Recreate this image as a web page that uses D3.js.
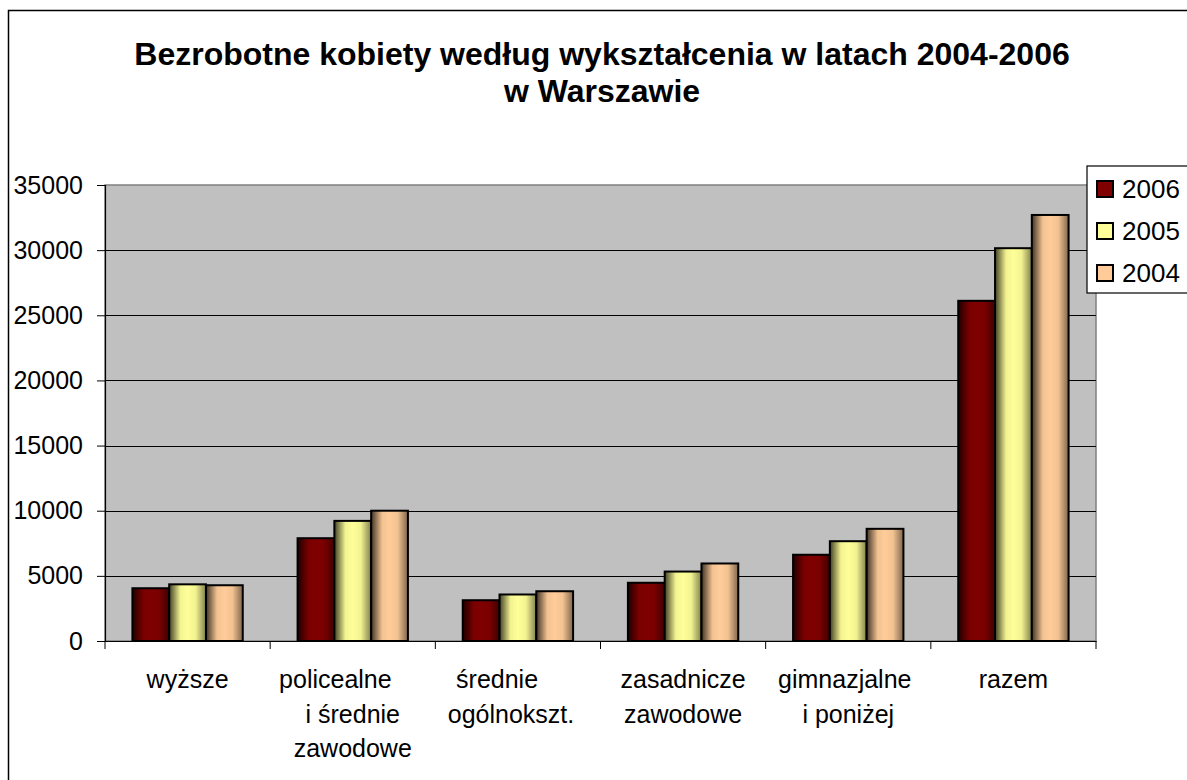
<!DOCTYPE html>
<html><head><meta charset="utf-8">
<script src="https://cdn.jsdelivr.net/npm/d3@7"></script>
<style>body{margin:0;background:#fff}svg{display:block;font-family:Arial,"Liberation Sans",sans-serif}</style>
</head><body><svg id="c" width="1187" height="780"></svg>
<script>
const titleLines = ["Bezrobotne kobiety według wykształcenia w latach 2004-2006", "w Warszawie"];
const categories = ["wyższe", "policealne i średnie zawodowe", "średnie ogólnokszt.", "zasadnicze zawodowe", "gimnazjalne i poniżej", "razem"];
const categoryLines = [["wyższe"], ["policealne\u00a0\u00a0\u00a0\u00a0\u00a0", "i średnie", "zawodowe"], ["średnie\u00a0\u00a0\u00a0\u00a0\u00a0\u00a0", "ogólnokszt.\u00a0\u00a0"], ["zasadnicze", "zawodowe"], ["gimnazjalne\u00a0", "i poniżej"], ["razem"]];
const seriesNames = ["2006", "2005", "2004"];
const values2006 = [4050, 7890, 3130, 4470, 6620, 26110];
const values2005 = [4350, 9220, 3570, 5330, 7660, 30150];
const values2004 = [4280, 10000, 3820, 5950, 8610, 32700];
const yTicks = [0, 5000, 10000, 15000, 20000, 25000, 30000, 35000];
const colors = ["#800000", "#FFFF99", "#FFCC99"];

const series = [values2006, values2005, values2004];
const svg = d3.select("#c");
const defs = svg.append("defs");

function shade(c, k){ const h = d3.rgb(c); return d3.rgb(h.r*k, h.g*k, h.b*k).formatHex(); }
colors.forEach((c,i)=>{
  const g = defs.append("linearGradient").attr("id","g"+i).attr("x1","0").attr("x2","1").attr("y1","0").attr("y2","0");
  [[0,0.25],[0.3,0.95],[0.5,1],[0.72,0.95],[1,0.5]].forEach(([o,k])=>g.append("stop").attr("offset",o).attr("stop-color",shade(c,k)));
});

// outer border
svg.append("rect").attr("x",8.5).attr("y",10.5).attr("width",1200).attr("height",800).attr("fill","#fff").attr("stroke","#000").attr("stroke-width",1.5);

const L = 105, R = 1096, T = 185, B = 641;
const x = d3.scaleBand().domain(categories).range([L,R]).paddingInner(0).paddingOuter(0);
const y = d3.scaleLinear().domain([0,35000]).range([B,T]);
const xs = d3.scaleBand().domain(seriesNames).range([0,x.bandwidth()]).paddingInner(0).paddingOuter(0.745);

svg.append("rect").attr("x",L).attr("y",T).attr("width",R-L).attr("height",B-T).attr("fill","#C0C0C0").attr("stroke","#808080").attr("stroke-width",1.5);

// gridlines
svg.append("g").selectAll("line").data(yTicks.filter(d=>d>0 && d<35000)).join("line")
  .attr("x1",L).attr("x2",R).attr("y1",d=>Math.round(y(d))+0.5).attr("y2",d=>Math.round(y(d))+0.5)
  .attr("stroke","#000").attr("stroke-width",1);

// bars
series.forEach((vals,si)=>{
  svg.append("g").selectAll("rect").data(vals).join("rect")
    .attr("x",(d,i)=>x(categories[i])+xs(seriesNames[si]))
    .attr("width",xs.bandwidth())
    .attr("y",d=>y(d))
    .attr("height",d=>B-y(d))
    .attr("fill","url(#g"+si+")")
    .attr("stroke","#000").attr("stroke-width",2);
});

// y axis
const ya = svg.append("g").attr("transform",`translate(${L},0)`)
  .call(d3.axisLeft(y).tickValues(yTicks).tickSize(8).tickPadding(14).tickFormat(d3.format("d")));
ya.select(".domain").attr("stroke","#000").attr("stroke-width",1.2);
ya.selectAll(".tick line").attr("stroke","#000");
ya.selectAll("text").attr("font-size",25).attr("fill","#000").attr("font-family","Arial, 'Liberation Sans', sans-serif");

// x axis
const xa = svg.append("g").attr("transform",`translate(0,${B})`)
  .call(d3.axisBottom(x).tickSize(0).tickFormat(""));
xa.select(".domain").attr("stroke","#000").attr("stroke-width",1.2);
const bounds = categories.map(c=>x(c)).concat([R]);
svg.append("g").selectAll("line").data(bounds).join("line")
  .attr("x1",d=>d).attr("x2",d=>d).attr("y1",B).attr("y2",B+8).attr("stroke","#000");

// category labels
categories.forEach((c,i)=>{
  const t = svg.append("text").attr("x",x(c)+x.bandwidth()/2).attr("y",688)
    .attr("text-anchor","middle").attr("font-size",25).attr("fill","#000").style("white-space","pre");
  categoryLines[i].forEach((ln,j)=>t.append("tspan").attr("x",x(c)+x.bandwidth()/2).attr("dy",j?34.5:0).text(ln));
});

// title
titleLines.forEach((ln,i)=>svg.append("text").attr("x",602).attr("y",65+i*37).attr("text-anchor","middle")
  .attr("font-size",32).attr("font-weight","bold").attr("fill","#000").text(ln));

// legend
const lg = svg.append("g");
lg.append("rect").attr("x",1087).attr("y",166).attr("width",150).attr("height",127).attr("fill","#fff").attr("stroke","#000").attr("stroke-width",1.2);
seriesNames.forEach((s,i)=>{
  const cy = 189 + i*42;
  lg.append("rect").attr("x",1097).attr("y",cy-8).attr("width",16).attr("height",16)
    .attr("fill",colors[i]).attr("stroke","#000").attr("stroke-width",2);
  lg.append("text").attr("x",1122).attr("y",cy+9).attr("font-size",26).attr("fill","#000").text(s);
});
</script></body></html>
